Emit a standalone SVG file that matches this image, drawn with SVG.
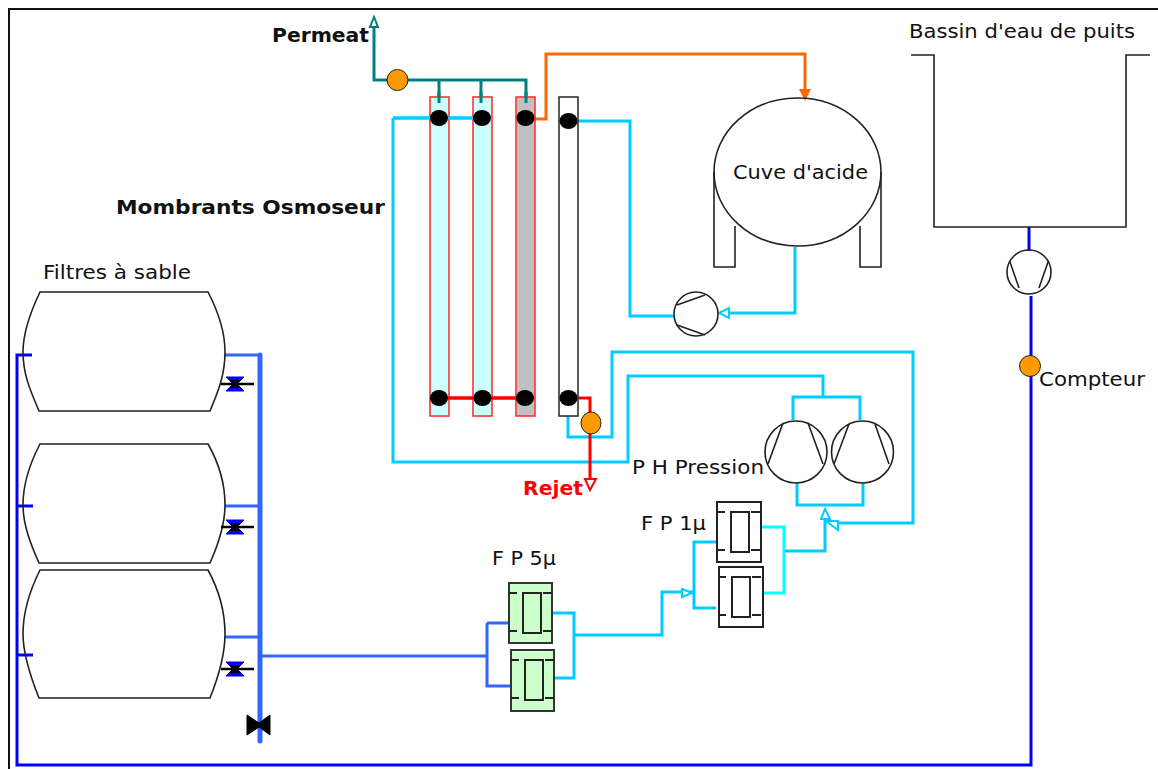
<svg xmlns="http://www.w3.org/2000/svg" width="1158" height="769" viewBox="0 0 1158 769">
<style>
text{font-family:"DejaVu Sans",Verdana,sans-serif;font-size:20px;fill:#111}
.b{font-weight:bold}
.p{fill:none;stroke-linejoin:miter}
.cy{stroke:#00ccff;stroke-width:3}
.aq{stroke:#00ffff;stroke-width:3}
.bl{stroke:#0000ff;stroke-width:3}
.mb{stroke:#3366ff;stroke-width:3}
.te{stroke:#008080;stroke-width:3}
.re{stroke:#ff0000;stroke-width:3}
.or{stroke:#ff6600;stroke-width:3}
.k{fill:none;stroke:#222;stroke-width:1.6}
.dot{fill:#000}
.mt{fill:#ff9900;stroke:#222;stroke-width:1}
.mem{stroke:#ff3333;stroke-width:1.6}
.gf{fill:#ccffcc;stroke:#333;stroke-width:2}
.wf{fill:#fff;stroke:#222;stroke-width:2}
.fi{fill:none;stroke:#222;stroke-width:2}
.vb{fill:#0000ff;stroke:#0000ff}
</style>
<defs>
<g id="valve"><path d="M-9,-7H9L2,0L9,7H-9L-2,0Z" class="vb"/><path d="M-6,-4H6L2,0L6,4H-6L-2,0Z" fill="#000"/><path d="M-14,0H19" stroke="#000" stroke-width="2.4"/></g>
<g id="filter"><path d="M0,10H8M34,10H43M0,48H8M34,48H43" class="fi"/><rect x="14" y="10" width="18" height="40" class="fi"/></g>
</defs>
<rect width="1158" height="769" fill="#fff"/>
<path d="M1158,9H9V769" fill="none" stroke="#111" stroke-width="2"/>

<g id="connectors">
<path class="p bl" d="M32,355H17V765H1031V296"/>
<path class="p bl" d="M1029,227V251"/>
<path class="p bl" d="M17,506H33M17,655H33"/>
<path class="p mb" d="M225,355H260M225,506H260M225,637H260M260,656H487M487,623H509M487,623V686H510"/>
<path class="p" stroke="#3366ff" stroke-width="5" stroke-linecap="round" d="M260,355V741"/>
<path class="p cy" d="M553,613H574V678H554M574,635H662V592H694M716,542H694V608H716"/>
<path class="p aq" d="M761,527H784V593H762"/>
<path class="p cy" d="M785,551H825V510M797,483V505H863V483"/>
<path class="p cy" d="M568,416V437H612V352H913V523H836"/>
<path class="p cy" d="M393,118H490M393,118V462H628V376H823V397M793,420V397H860V420"/>
<path class="p cy" d="M578,121H630V316H674M795,247V313H722"/>
<path class="p te" d="M374,24V80H526V103M439,80V103M481,80V103"/>
<path class="p or" d="M535,119H546V54H805V92"/>
<path class="p re" d="M439,398H525M578,398H590V482"/>
<path d="M374,17L370,27H378Z" fill="#fff" stroke="#008080" stroke-width="2"/>
<path d="M805,101L799,89H811Z" fill="#ff6600"/>
<path d="M590,490L585,479H596Z" fill="#fff" stroke="#ff0000" stroke-width="2"/>
<path d="M719,313L729,308V318Z" fill="#fff" stroke="#00ccff" stroke-width="2"/>
<path d="M825,509L821,519H830Z" fill="#fff" stroke="#00ccff" stroke-width="2"/>
<path d="M826,521L838,521V530Z" fill="#fff" stroke="#00ccff" stroke-width="2"/>
<path d="M692,593L682,589V597Z" fill="#fff" stroke="#00ccff" stroke-width="2"/>
</g>

<g id="basin"><path class="k" d="M911,55H934V227H1126V55H1150"/></g>
<g id="cuve"><ellipse class="k" cx="797.500" cy="172" rx="83.500" ry="74"/><path class="k" d="M714,172V267H735V226M881,172V267H860V226"/></g>

<g id="membranes">
<rect class="mem" x="430" y="97" width="19" height="319" fill="#ccffff"/>
<rect class="mem" x="473" y="97" width="19" height="319" fill="#ccffff"/>
<rect class="mem" x="516" y="97" width="19" height="319" fill="#c0c0c0"/>
<rect x="559" y="97" width="19" height="319" fill="#fff" stroke="#333" stroke-width="1.600"/>
</g>
<g id="conn-top">
<path class="p cy" d="M393,118H490"/><path class="p te" d="M439,92V103M481,92V103M526,92V103"/><path class="p re" d="M439,398H525"/>
<ellipse class="dot" cx="439" cy="118" rx="9" ry="8"/><ellipse class="dot" cx="482" cy="118" rx="9" ry="8"/><ellipse class="dot" cx="525.500" cy="118" rx="9" ry="8"/><ellipse class="dot" cx="568.500" cy="121" rx="9" ry="8"/>
<ellipse class="dot" cx="439" cy="398" rx="9" ry="8"/><ellipse class="dot" cx="482.500" cy="398" rx="9" ry="8"/><ellipse class="dot" cx="525" cy="398" rx="9" ry="8"/><ellipse class="dot" cx="568.500" cy="398" rx="9" ry="8"/>
</g>

<g id="tank1"><path class="k" d="M40,292H208C220,315 225,335 225,352C225,375 218,392 210,411H39C31,392 23,375 23,352C23,335 29,315 40,292Z"/></g>
<g id="tank2"><path class="k" d="M40,444H208C220,465 225,485 225,505C225,525 218,545 210,563H39C31,545 23,525 23,505C23,485 29,465 40,444Z"/></g>
<g id="tank3"><path class="k" d="M40,570H208C220,592 225,612 225,634C225,655 218,678 210,698H39C31,678 23,655 23,634C23,612 29,592 40,570Z"/></g>

<g id="valves">
<use href="#valve" x="235" y="384"/><use href="#valve" x="235" y="527"/><use href="#valve" x="235" y="669"/>
<path d="M247,715L259,723L270,715V735L259,727L247,735Z" fill="#000" stroke="#000" stroke-linejoin="round"/>
</g>

<g id="pump-acid"><circle class="k" cx="696" cy="314" r="22"/><path class="k" d="M677,305L705,295M677,325L705,335"/></g>
<g id="pump-well"><circle class="k" cx="1029" cy="272" r="22"/><path class="k" d="M1010,262L1019,288M1048,262L1039,288"/></g>
<g id="pump-hp1"><circle class="k" cx="796" cy="452" r="31"/><path class="k" d="M783,423L768,464M808,423L823,464"/></g>
<g id="pump-hp2"><circle class="k" cx="862.500" cy="452" r="31"/><path class="k" d="M849,424L834,464M875,424L889,464"/></g>

<g id="meter-permeat"><circle class="mt" cx="397.500" cy="80" r="10.500"/></g>
<g id="meter-rejet"><ellipse class="mt" cx="591" cy="423" rx="10" ry="11"/></g>
<g id="meter-compteur"><circle class="mt" cx="1030" cy="366" r="10.500"/></g>

<g id="fp5a"><rect class="gf" x="509" y="583" width="43" height="60"/><use href="#filter" x="509" y="583"/></g>
<g id="fp5b"><rect class="gf" x="511" y="650" width="43" height="61"/><use href="#filter" x="511" y="650"/></g>
<g id="fp1a"><rect class="wf" x="717" y="502" width="44" height="60"/><use href="#filter" x="717" y="502"/></g>
<g id="fp1b"><rect class="wf" x="719" y="567" width="44" height="60"/><use href="#filter" x="718" y="567"/></g>

<g id="labels">
<text x="272" y="42" class="b" textLength="97" lengthAdjust="spacingAndGlyphs">Permeat</text>
<text x="116" y="214" class="b" textLength="269" lengthAdjust="spacingAndGlyphs">Mombrants Osmoseur</text>
<text x="43" y="279" textLength="148" lengthAdjust="spacingAndGlyphs">Filtres à sable</text>
<text x="909" y="38" textLength="226" lengthAdjust="spacingAndGlyphs">Bassin d'eau de puits</text>
<text x="733" y="179" textLength="135" lengthAdjust="spacingAndGlyphs">Cuve d'acide</text>
<text x="1039" y="386" textLength="106" lengthAdjust="spacingAndGlyphs">Compteur</text>
<text x="632" y="474" textLength="132" lengthAdjust="spacingAndGlyphs">P H Pression</text>
<text x="641" y="530" textLength="65" lengthAdjust="spacingAndGlyphs">F P 1µ</text>
<text x="492" y="565" textLength="64" lengthAdjust="spacingAndGlyphs">F P 5µ</text>
<text x="523" y="495" class="b" style="fill:#ff0000" textLength="60" lengthAdjust="spacingAndGlyphs">Rejet</text>
</g>
</svg>
